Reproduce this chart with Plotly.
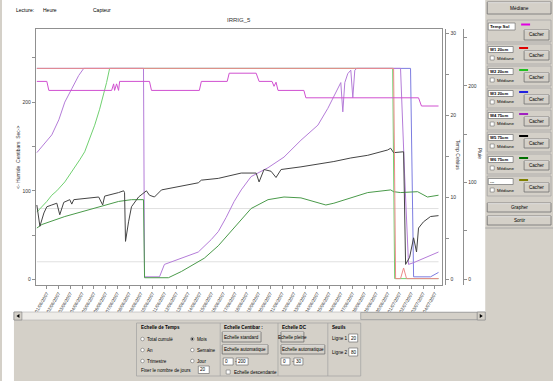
import plotly.graph_objects as go

# ---------------- data ----------------
tick_days = list(range(34))
tick_labels = ["%02d/06/2007" % d for d in range(1, 31)] + ["%02d/07/2007" % d for d in range(1, 5)]

# W1 20cm (red)
w1_x = [-0.85, 29.49, 29.66, 30.08, 30.34, 30.59, 33.31]
w1_y = [238, 238, 1, 1, 13, 1, 1]
# W2 20cm (green)
w2_x = [-0.85, -0.42, 0, 0.42, 0.85, 1.53, 1.95, 2.37, 2.80, 3.22, 3.64, 4.07, 4.49, 4.83, 5.08, 5.34, 29.41, 29.58, 33.31]
w2_y = [76, 82, 88, 95, 100, 110, 118, 126, 135, 144, 158, 174, 192, 208, 222, 238, 238, 1, 1]
# W3 20cm (blue)
w3_x = [-0.85, 30.93, 31.19, 32.63, 33.31]
w3_y = [238, 238, 3, 3, 8]
# W4 75cm (purple)
w4_x = [-0.85, -0.42, 0.42, 1.02, 1.53, 2.12, 2.71, 3.14, 8.22, 8.31, 9.58, 10.0, 11.44, 12.88, 13.98,
        14.58, 15.25, 15.93, 16.53, 17.37, 18.81, 20.17, 21.61, 23.05, 23.90, 24.75, 25.0, 25.17, 25.34,
        25.59, 25.85, 26.02, 26.19, 26.36, 30.08, 30.42, 30.76, 31.19, 32.2, 33.31]
w4_y = [143, 150, 163, 180, 200, 215, 230, 238, 238, 3, 3, 17, 24, 31, 45,
        54, 70, 88, 101, 116, 126, 138, 157, 174, 193, 216, 222, 189, 222,
        232, 236, 205, 236, 238, 238, 120, 17, 19, 25, 31]
# W5 75cm (black)
w5_x = [-0.85, -0.59, -0.25, 0, 0.42, 0.85, 1.10, 1.44, 1.95, 2.12, 2.29, 4.41, 4.75, 4.92, 6.10, 6.53,
        6.61, 6.69, 6.95, 7.20, 7.80, 8.47, 8.73, 9.15, 9.75, 11.44, 12.88, 13.14, 14.58, 16.53, 17.80,
        18.05, 18.47, 19.07, 19.49, 19.92, 21.61, 24.41, 25.85, 27.29, 28.98, 29.24, 29.49, 30.34, 30.51,
        30.85, 31.19, 31.44, 31.61, 32.03, 32.63, 33.31]
w5_y = [84, 60, 75, 82, 84, 86, 73, 87, 90, 85, 90, 93, 84, 94, 98, 100,
        98, 43, 65, 82, 93, 100, 95, 93, 101, 105, 109, 112, 114, 120, 120,
        110, 124, 122, 115, 124, 127, 133, 137, 140, 146, 148, 143, 144, 17,
        25, 47, 31, 58, 65, 71, 72]
# W6 75cm (dark green)
w6_x = [-0.85, -0.42, 1.53, 4.41, 6.10, 7.20, 8.22, 8.31, 10.34, 11.44, 13.39, 14.58, 15.68, 16.53, 17.37,
        18.81, 20.17, 21.61, 23.05, 23.73, 24.41, 25.85, 27.29, 29.24, 29.49, 30.08, 31.53, 32.37, 33.31]
w6_y = [58, 62, 71, 82, 88, 90, 90, 2, 2, 9, 24, 38, 55, 68, 80,
        90, 93, 92, 87, 84, 86, 92, 98, 101, 99, 98, 99, 93, 95]
# Temp Sol (magenta, Celsius axis)
ts_x = [-0.85, 0, 0.17, 5.51, 5.68, 5.76, 5.93, 6.10, 6.19, 8.73, 8.90, 12.97, 13.14, 15.34, 15.51,
        17.80, 18.05, 19.15, 19.32, 19.49, 19.66, 21.86, 22.03, 31.61, 31.86, 33.31]
ts_y = [24.1, 24.1, 23.0, 23.0, 23.8, 23.0, 23.8, 23.0, 24.1, 24.1, 23.0, 23.0, 24.1, 24.1, 25.1,
        25.1, 24.1, 24.1, 23.5, 24.0, 23.0, 23.0, 22.1, 22.1, 21.1, 21.1]
# Seuils
seuil_1 = 20
seuil_2 = 80
seuil_x = [-0.85, 33.31]

left_ticks = [0, 50, 100, 150, 200, 250]
left_text = ["0", "", "100", "", "200", ""]
temp_ticks = [0, 5, 10, 15, 20, 25, 30]
temp_text = ["0", "", "10", "", "20", "", "30"]
pluie_ticks = [0, 50, 100, 150, 200, 250]
pluie_text = ["0", "", "100", "", "200", ""]

sensor_names = ["W1 20cm", "W2 20cm", "W3 20cm", "W4 75cm", "W5 75cm", "W6 75cm", "---"]
sensor_colors = ["#e00000", "#20c020", "#2020e0", "#a020c0", "#000000", "#007000", "#808000"]

# ---------------- helpers ----------------
W, H = 553, 381
def px(x): return x / W
def py(y): return 1 - y / H

FONT = "Liberation Sans"
shapes = []
annots = []

def rect(x0, y0, x1, y1, fill="rgba(0,0,0,0)", line="#808080", lw=0.8, layer="above"):
    shapes.append(dict(type="rect", xref="paper", yref="paper", x0=px(x0), x1=px(x1), y0=py(y1), y1=py(y0),
                       fillcolor=fill, line=dict(color=line, width=lw), layer=layer))

def hline(x0, x1, y, color="#808080", lw=0.8):
    shapes.append(dict(type="line", xref="paper", yref="paper", x0=px(x0), x1=px(x1), y0=py(y), y1=py(y),
                       line=dict(color=color, width=lw)))

def vline(x, y0, y1, color="#808080", lw=0.8):
    shapes.append(dict(type="line", xref="paper", yref="paper", x0=px(x), x1=px(x), y0=py(y0), y1=py(y1),
                       line=dict(color=color, width=lw)))

def circ(cx, cy, r, fill="white", line="#808080"):
    shapes.append(dict(type="circle", xref="paper", yref="paper", x0=px(cx - r), x1=px(cx + r),
                       y0=py(cy + r), y1=py(cy - r), fillcolor=fill, line=dict(color=line, width=0.7)))

def text(x, y, s, size=5, anchor="left", bold=False, color="#000000", angle=0):
    if bold:
        s = "<b>" + s + "</b>"
    annots.append(dict(xref="paper", yref="paper", x=px(x), y=py(y), text=s, showarrow=False,
                       xanchor=anchor, yanchor="middle", textangle=angle, borderpad=0,
                       font=dict(family=FONT, size=size, color=color)))

def button(x0, y0, x1, y1, label, size=4.6):
    rect(x0, y0, x1, y1, fill="#d4d0c8", line="#707070", lw=0.8)
    hline(x0 + 0.5, x1 - 0.5, y0 + 0.6, color="#ffffff", lw=0.6)
    text((x0 + x1) / 2, (y0 + y1) / 2, label, size=size, anchor="center")

def inputbox(x0, y0, x1, y1, val, size=4.6):
    rect(x0, y0, x1, y1, fill="#ffffff", line="#707070", lw=0.7)
    text(x0 + 1, (y0 + y1) / 2, val, size=size)

# white canvas area
rect(0, 0, 485, 312, fill="#ffffff", line="rgba(0,0,0,0)", lw=0, layer="below")
rect(0, 312, 12, 381, fill="#ffffff", line="rgba(0,0,0,0)", lw=0, layer="below")

# top texts & title
text(13, 10, "Lecture:", size=5)
text(40, 10, "Heure", size=5)
text(90, 10, "Capteur", size=5)
text(238, 20, "IRRIG_5", size=6, anchor="center", color="#333333")

# axis titles
text(16, 157, "<- Humide  Centibars  Sec->", size=5, anchor="center", angle=-90, color="#333333")
text(458, 155, "Temp Celsius", size=5, anchor="center", angle=90, color="#333333")
text(480, 153, "Pluie", size=5, anchor="center", angle=90, color="#333333")

# scrollbar
rect(12, 312, 485, 320, fill="#eeece8", line="#b0b0b0", lw=0.6)
rect(360, 312.5, 477, 319.5, fill="#d4d0c8", line="#909090", lw=0.6)
rect(12, 312, 20, 320, fill="#d4d0c8", line="#808080", lw=0.6)
rect(477, 312, 485, 320, fill="#d4d0c8", line="#808080", lw=0.6)
shapes.append(dict(type="path", xref="paper", yref="paper",
                   path="M %f %f L %f %f L %f %f Z" % (px(17.5), py(314), px(17.5), py(318), px(14.5), py(316)),
                   fillcolor="#000", line=dict(width=0)))
shapes.append(dict(type="path", xref="paper", yref="paper",
                   path="M %f %f L %f %f L %f %f Z" % (px(479.5), py(314), px(479.5), py(318), px(482.5), py(316)),
                   fillcolor="#000", line=dict(width=0)))

# right panel
button(487, 2, 551, 14, "Médiane", size=4.8)
rect(487, 20, 551, 42, line="#a0a0a0", lw=0.7)
inputbox(488, 23, 515, 30, "<b>Temp Sol</b>", size=4.4)
rect(521, 23.5, 530, 25.5, fill="#e000e0", line="rgba(0,0,0,0)", lw=0)
button(524, 30, 549, 40, "Cacher")
for i, (nm, col) in enumerate(zip(sensor_names, sensor_colors)):
    y0 = 44 + 22 * i
    rect(487, y0, 551, y0 + 20, line="#a0a0a0", lw=0.7)
    inputbox(488, y0 + 2.5, 513, y0 + 8.5, "<b>" + nm + "</b>", size=4.2)
    rect(519, y0 + 3, 528, y0 + 5, fill=col, line="rgba(0,0,0,0)", lw=0)
    rect(490, y0 + 12, 494, y0 + 16, fill="#ffffff", line="#707070", lw=0.6)
    text(496, y0 + 14, "Médiane", size=4.4)
    button(524, y0 + 7, 549, y0 + 16, "Cacher")
button(487, 203, 551, 212, "Grapher")
button(487, 216, 551, 225, "Sortir")
hline(485, 553, 228, color="#a0a0a0", lw=0.8)

# bottom control panel
rect(135, 323, 360, 376, line="#a0a0a0", lw=0.7)
for xv in (219, 277, 327):
    vline(xv, 323, 376, color="#a0a0a0", lw=0.7)
text(138, 327.5, "Echelle de Temps", size=4.6, bold=True)
for lbl, yy in (("Total cumulé", 339), ("An", 350), ("Trimestre", 361)):
    circ(141, yy, 1.8)
    text(145, yy, lbl, size=4.6)
for lbl, yy, sel in (("Mois", 339, True), ("Semaine", 350, False), ("Jour", 361, False)):
    circ(191, yy, 1.8)
    if sel:
        circ(191, yy, 0.7, fill="#000000", line="#000000")
    text(195, yy, lbl, size=4.6)
text(138, 370, "Fixer le nombre de jours", size=4.6)
inputbox(197, 366, 208, 373.5, "20")

text(222, 327.5, "Echelle Centibar :", size=4.6, bold=True)
button(221, 332, 260, 342, "Echelle standard")
button(221, 345, 267, 354, "Echelle automatique")
inputbox(222, 358, 232, 365, "0")
text(233, 361.5, "-", size=4.6)
inputbox(235, 358, 247, 365, "200")
rect(225, 370, 229, 374, fill="#ffffff", line="#707070", lw=0.6)
text(232, 372, "Echelle descendante", size=4.6)

text(280, 327.5, "Echelle DC", size=4.6, bold=True)
button(280, 332, 303, 342, "Echelle pleine")
button(280, 345, 324, 354, "Echelle automatique")
inputbox(280, 358, 289, 365, "0")
text(290, 361.5, "-", size=4.6)
inputbox(293, 358, 302, 365, "30")

text(330, 327.5, "Seuils", size=4.6, bold=True)
text(330, 338, "Ligne 1", size=4.6)
inputbox(348, 334, 357, 342, str(seuil_1))
text(330, 352, "Ligne 2", size=4.6)
inputbox(348, 348, 357, 356, str(seuil_2))

# ---------------- figure ----------------
fig = go.Figure()
line_w = 1.0
fig.add_trace(go.Scatter(x=seuil_x, y=[seuil_1, seuil_1], mode="lines", line=dict(color="#d8d8d8", width=0.8), hoverinfo="skip"))
fig.add_trace(go.Scatter(x=seuil_x, y=[seuil_2, seuil_2], mode="lines", line=dict(color="#d8d8d8", width=0.8), hoverinfo="skip"))
fig.add_trace(go.Scatter(x=w3_x, y=w3_y, mode="lines", line=dict(color="#7c7ce0", width=line_w), name="W3"))
fig.add_trace(go.Scatter(x=w2_x, y=w2_y, mode="lines", line=dict(color="#70d070", width=line_w), name="W2"))
fig.add_trace(go.Scatter(x=w4_x, y=w4_y, mode="lines", line=dict(color="#b47cd8", width=line_w), name="W4"))
fig.add_trace(go.Scatter(x=w6_x, y=w6_y, mode="lines", line=dict(color="#4a9a4a", width=line_w), name="W6"))
fig.add_trace(go.Scatter(x=w5_x, y=w5_y, mode="lines", line=dict(color="#444444", width=line_w), name="W5"))
fig.add_trace(go.Scatter(x=w1_x, y=w1_y, mode="lines", line=dict(color="#ec8a8a", width=line_w), name="W1"))
fig.add_trace(go.Scatter(x=ts_x, y=ts_y, mode="lines", line=dict(color="#d050d0", width=line_w), name="Temp Sol", yaxis="y2"))
fig.add_trace(go.Scatter(x=[None], y=[None], mode="lines", yaxis="y3", showlegend=False))

axis_col = "#909090"
tickfont = dict(family=FONT, size=5, color="#333333")
fig.update_layout(
    width=W, height=H, margin=dict(l=0, r=0, t=0, b=0),
    paper_bgcolor="#d4d0c8", plot_bgcolor="#ffffff", showlegend=False,
    shapes=shapes, annotations=annots,
    xaxis=dict(domain=[px(34), px(442)], range=[-0.932, 33.64], tickmode="array", tickvals=tick_days,
               ticktext=tick_labels, tickangle=-60, ticks="outside", ticklen=3, tickcolor=axis_col,
               showline=True, linecolor=axis_col, linewidth=1, mirror=True, showgrid=False, zeroline=False,
               tickfont=dict(family=FONT, size=4.6, color="#333333")),
    yaxis=dict(domain=[py(285), py(29)], range=[-6.2, 282.4], tickmode="array", tickvals=left_ticks,
               ticktext=left_text, ticks="outside", ticklen=3, tickcolor=axis_col, showline=True,
               linecolor=axis_col, linewidth=1, mirror=True, showgrid=False, zeroline=False, tickfont=tickfont),
    yaxis2=dict(overlaying="y", side="right", anchor="free", position=px(445), range=[-0.73, 30.49],
                tickmode="array", tickvals=temp_ticks, ticktext=temp_text, ticks="outside", ticklen=3,
                tickcolor=axis_col, showline=True, linecolor=axis_col, linewidth=1, showgrid=False,
                zeroline=False, tickfont=tickfont),
    yaxis3=dict(overlaying="y", side="right", anchor="free", position=px(463), range=[-6.2, 259],
                tickmode="array", tickvals=pluie_ticks, ticktext=pluie_text, ticks="outside", ticklen=3,
                tickcolor=axis_col, showline=True, linecolor=axis_col, linewidth=1, showgrid=False,
                zeroline=False, tickfont=tickfont),
)
fig.write_html("out.html", config={"displayModeBar": False},
               post_script="document.body.style.margin='0';document.body.style.overflow='hidden';")
